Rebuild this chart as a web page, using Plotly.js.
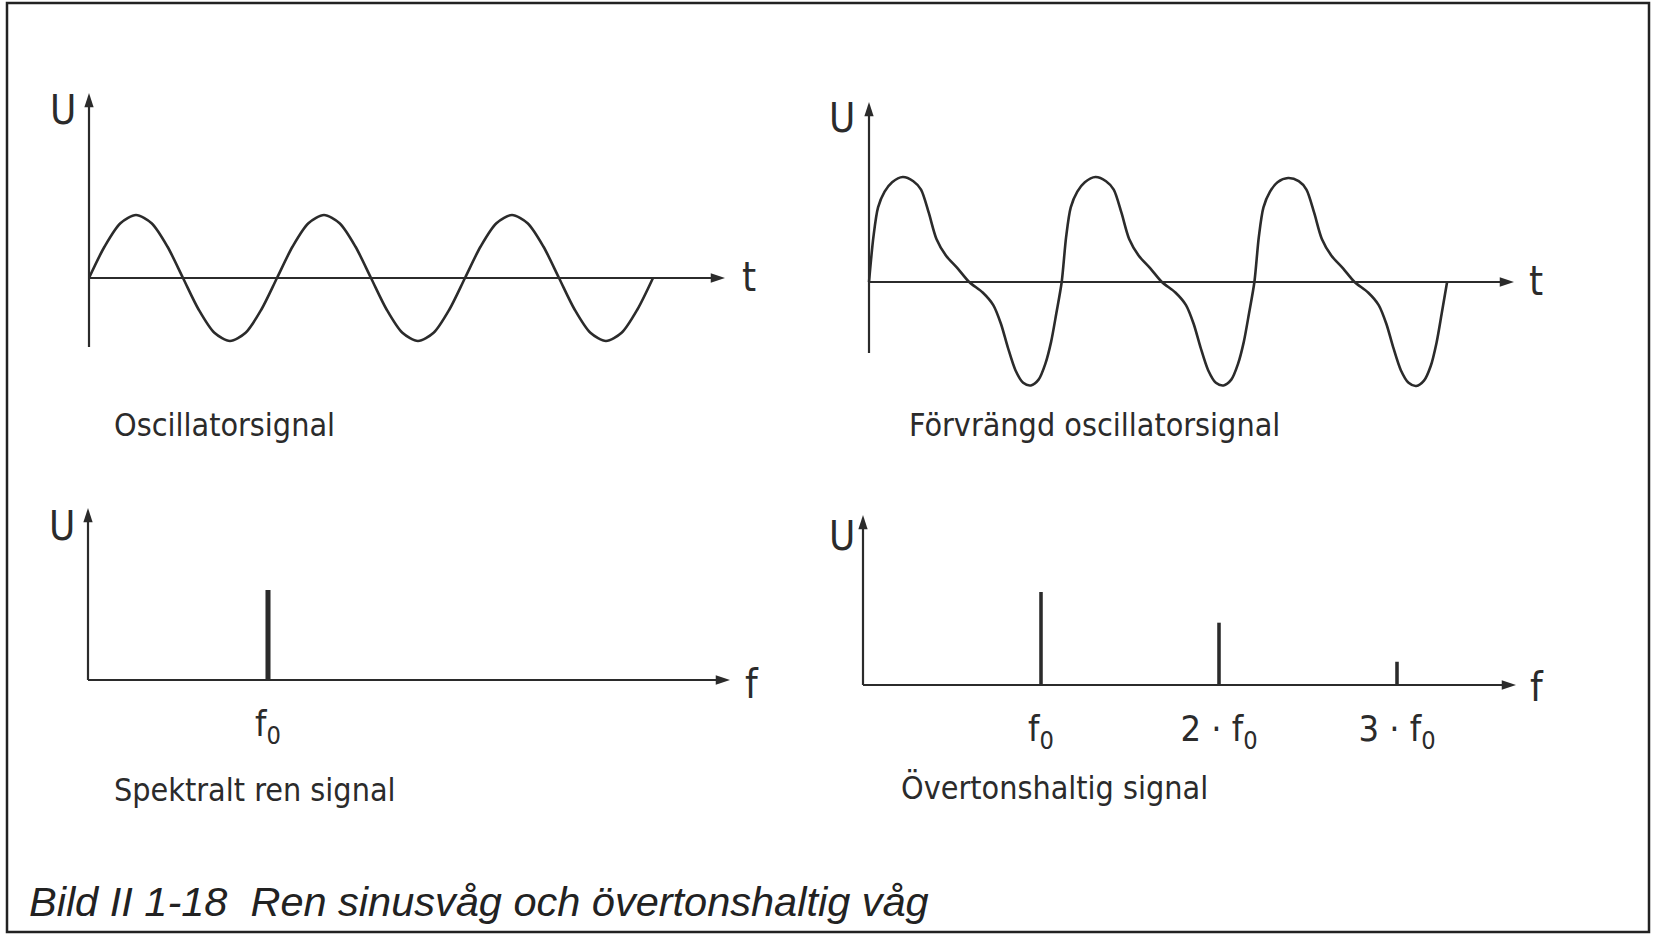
<!DOCTYPE html>
<html>
<head>
<meta charset="utf-8">
<script src="https://cdn.plot.ly/plotly-3.0.1.min.js"></script>
<style>
  html, body { margin: 0; padding: 0; background: #ffffff; }
  #chart { width: 1654px; height: 937px; }
</style>
</head>
<body>
<div id="chart"></div>
<script>
// ---------------- DATA ----------------
// Pure oscillator signal: time in periods, amplitude in units of the peak
const sineT = [0, 0.083, 0.167, 0.25, 0.333, 0.417, 0.5, 0.583, 0.667, 0.75, 0.833, 0.917,
               1, 1.083, 1.167, 1.25, 1.333, 1.417, 1.5, 1.583, 1.667, 1.75, 1.833, 1.917,
               2, 2.083, 2.167, 2.25, 2.333, 2.417, 2.5, 2.583, 2.667, 2.75, 2.833, 2.917, 3];
const sineU = [0, 0.5, 0.87, 1, 0.87, 0.5, 0, -0.5, -0.87, -1, -0.87, -0.5,
               0, 0.5, 0.87, 1, 0.87, 0.5, 0, -0.5, -0.87, -1, -0.87, -0.5,
               0, 0.5, 0.87, 1, 0.87, 0.5, 0, -0.5, -0.87, -1, -0.87, -0.5, 0];

// Distorted oscillator signal
const distT = [0, 0.023, 0.047, 0.081, 0.12, 0.175, 0.23, 0.27, 0.31, 0.35, 0.40, 0.46, 0.52, 0.59, 0.645, 0.685, 0.72, 0.76, 0.80, 0.84, 0.88, 0.915, 0.945, 0.972,
               1, 1.023, 1.047, 1.081, 1.12, 1.175, 1.23, 1.27, 1.31, 1.35, 1.40, 1.46, 1.52, 1.59, 1.645, 1.685, 1.72, 1.76, 1.80, 1.84, 1.88, 1.915, 1.945, 1.972,
               2, 2.023, 2.047, 2.081, 2.12, 2.175, 2.23, 2.27, 2.31, 2.35, 2.40, 2.46, 2.52, 2.59, 2.645, 2.685, 2.72, 2.76, 2.80, 2.84, 2.88, 2.915, 2.945, 2.972, 3];
const distU = [0, 0.43, 0.71, 0.86, 0.95, 1.0, 0.96, 0.88, 0.66, 0.41, 0.25, 0.13, 0, -0.1, -0.22, -0.4, -0.62, -0.84, -0.96, -0.985, -0.93, -0.78, -0.57, -0.3,
               0, 0.43, 0.71, 0.86, 0.95, 1.0, 0.96, 0.88, 0.66, 0.41, 0.25, 0.13, 0, -0.1, -0.22, -0.4, -0.62, -0.84, -0.96, -0.985, -0.93, -0.78, -0.57, -0.3,
               0, 0.43, 0.71, 0.86, 0.95, 0.99, 0.96, 0.88, 0.66, 0.41, 0.25, 0.13, 0, -0.1, -0.22, -0.4, -0.62, -0.84, -0.96, -0.99, -0.94, -0.8, -0.58, -0.3, 0];

// Spectrum of the pure signal
const pureF = [1];
const pureAmp = [1];
const pureLabels = ['f<sub>0</sub>'];

// Spectrum of the harmonic-rich signal
const harmF = [1, 2, 3];
const harmAmp = [1, 0.67, 0.25];
const harmLabels = ['f<sub>0</sub>', '2 · f<sub>0</sub>', '3 · f<sub>0</sub>'];

// Texts
const captions = ['Oscillatorsignal', 'Förvrängd oscillatorsignal', 'Spektralt ren signal', 'Övertonshaltig signal'];
const figTitle = 'Bild II 1-18  Ren sinusvåg och övertonshaltig våg';

// ---------------- LAYOUT ----------------
const W = 1654, H = 937;
const ink = '#2b2b2b';
const condFont = '"DejaVu Sans Condensed", "Liberation Sans", sans-serif';

// panel geometry in pixels (origin, unit sizes, plot box, axis arrow ends)
const panels = [
  {xa: 'x',  ya: 'y',  ox: 89,  oy: 278, ux: 188,   uy: 63,  L: 79,  R: 737,  T: 85,  B: 360, tipX: 725,  tipY: 93,  tailY: 347},
  {xa: 'x2', ya: 'y2', ox: 869, oy: 282, ux: 192.7, uy: 105, L: 859, R: 1526, T: 94,  B: 400, tipX: 1514, tipY: 102, tailY: 353},
  {xa: 'x3', ya: 'y3', ox: 88,  oy: 680, ux: 180,   uy: 90,  L: 78,  R: 742,  T: 500, B: 690, tipX: 730,  tipY: 508, tailY: 680},
  {xa: 'x4', ya: 'y4', ox: 863, oy: 685, ux: 178,   uy: 93,  L: 853, R: 1528, T: 507, B: 695, tipX: 1516, tipY: 515, tailY: 685}
];

const layout = {
  width: W, height: H,
  margin: {l: 0, r: 0, t: 0, b: 0, pad: 0},
  paper_bgcolor: '#ffffff',
  plot_bgcolor: 'rgba(0,0,0,0)',
  showlegend: false,
  annotations: [],
  shapes: [{
    type: 'rect', xref: 'paper', yref: 'paper',
    x0: 7 / W, x1: 1649 / W, y0: 1 - 932 / H, y1: 1 - 3 / H,
    line: {color: '#222', width: 2.5}
  }]
};

const axisTraces = [];
const arrowMarker = {symbol: 'arrow', size: 15, angleref: 'previous', color: ink, line: {width: 0}};

panels.forEach((p, i) => {
  const xKey = 'xaxis' + (i === 0 ? '' : i + 1);
  const yKey = 'yaxis' + (i === 0 ? '' : i + 1);
  layout[xKey] = {
    domain: [p.L / W, p.R / W],
    range: [(p.L - p.ox) / p.ux, (p.R - p.ox) / p.ux],
    anchor: p.ya, visible: false, showgrid: false, zeroline: false, fixedrange: true
  };
  layout[yKey] = {
    domain: [1 - p.B / H, 1 - p.T / H],
    range: [(p.oy - p.B) / p.uy, (p.oy - p.T) / p.uy],
    anchor: p.xa, visible: false, showgrid: false, zeroline: false, fixedrange: true
  };
  // y axis line with arrow head at its top end
  axisTraces.push({
    type: 'scatter', mode: 'lines+markers', xaxis: p.xa, yaxis: p.ya,
    x: [0, 0], y: [(p.oy - p.tailY) / p.uy, (p.oy - p.tipY) / p.uy],
    line: {color: ink, width: 2.2}, marker: arrowMarker, hoverinfo: 'skip', cliponaxis: false
  });
  // x axis line with arrow head at its right end
  axisTraces.push({
    type: 'scatter', mode: 'lines+markers', xaxis: p.xa, yaxis: p.ya,
    x: [0, (p.tipX - p.ox) / p.ux], y: [0, 0],
    line: {color: ink, width: 2.2}, marker: arrowMarker, hoverinfo: 'skip', cliponaxis: false
  });
});

// tick labels on the spectrum axes, placed on the frequency axis line
function tickAxis(base, vals, labels, oy) {
  return Object.assign(base, {
    visible: true, showline: false, showticklabels: true,
    anchor: 'free', position: 1 - oy / H,
    tickmode: 'array', tickvals: vals, ticktext: labels,
    ticks: 'outside', ticklen: 12, tickcolor: 'rgba(0,0,0,0)',
    tickfont: {family: condFont, size: 36, color: ink}
  });
}
tickAxis(layout.xaxis3, pureF, pureLabels, panels[2].oy);
tickAxis(layout.xaxis4, harmF, harmLabels, panels[3].oy);

// axis letters
function label(text, x, y, size) {
  layout.annotations.push({
    xref: 'paper', yref: 'paper', x: x / W, y: 1 - y / H,
    xanchor: 'center', yanchor: 'middle', showarrow: false,
    text: text, font: {family: condFont, size: size, color: ink}
  });
}
label('U', 63, 110, 40);
label('t', 749, 277, 40);
label('U', 842, 118, 40);
label('t', 1536, 281, 40);
label('U', 62, 526, 40);
label('f', 752, 684, 40);
label('U', 842, 536, 40);
label('f', 1537, 687, 40);

// captions
function caption(text, x, y) {
  layout.annotations.push({
    xref: 'paper', yref: 'paper', x: x / W, y: 1 - y / H,
    xanchor: 'left', yanchor: 'middle', showarrow: false,
    text: text, font: {family: condFont, size: 32, color: ink}
  });
}
caption(captions[0], 112, 425);
caption(captions[1], 907, 425);
caption(captions[2], 112, 790);
caption(captions[3], 899, 788);

// figure title
layout.annotations.push({
  xref: 'paper', yref: 'paper', x: 27 / W, y: 1 - 901 / H,
  xanchor: 'left', yanchor: 'middle', showarrow: false,
  text: '<i>' + figTitle + '</i>',
  font: {family: '"Liberation Sans", Arial, sans-serif', size: 41.5, color: '#222'}
});

// ---------------- TRACES ----------------
const lineStyle = {color: ink, width: 2.6, shape: 'spline', smoothing: 0.8};
const traces = [
  {type: 'scatter', mode: 'lines', x: sineT, y: sineU, xaxis: 'x', yaxis: 'y', line: lineStyle, hoverinfo: 'skip'},
  {type: 'scatter', mode: 'lines', x: distT, y: distU, xaxis: 'x2', yaxis: 'y2', line: lineStyle, hoverinfo: 'skip'},
  {type: 'bar', x: pureF, y: pureAmp, xaxis: 'x3', yaxis: 'y3', width: 0.028,
   marker: {color: ink, line: {width: 0}}, hoverinfo: 'skip'},
  {type: 'bar', x: harmF, y: harmAmp, xaxis: 'x4', yaxis: 'y4', width: 0.02,
   marker: {color: ink, line: {width: 0}}, hoverinfo: 'skip'}
].concat(axisTraces);

Plotly.newPlot('chart', traces, layout, {staticPlot: true, displayModeBar: false});
</script>
</body>
</html>
